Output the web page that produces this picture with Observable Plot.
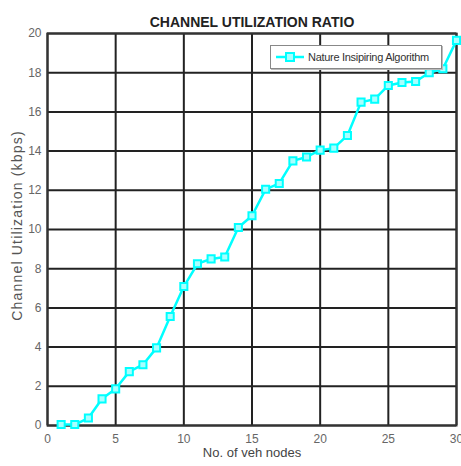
<!DOCTYPE html>
<html>
<head>
<meta charset="utf-8">
<script src="https://cdn.jsdelivr.net/npm/d3@7"></script>
<script src="https://cdn.jsdelivr.net/npm/@observablehq/plot@0.6"></script>
<style>
  html, body { margin: 0; padding: 0; background: #fff; }
  #wrap { position: relative; width: 461px; height: 466px; }
  #legend {
    position: absolute; left: 270px; top: 45px; width: 172px; height: 24px;
    background: #fff; border: 1px solid #888; box-shadow: 1px 1px 0 #bbb;
    display: flex; align-items: center; box-sizing: border-box;
    font-family: "Liberation Sans", Arial, sans-serif; font-size: 11px; color: #333;
    letter-spacing: -0.3px;
  }
  #legend svg { margin-left: 5px; margin-right: 4px; }
</style>
</head>
<body>
<div id="wrap"></div>
<script>
const nodes = [1,2,3,4,5,6,7,8,9,10,11,12,13,14,15,16,17,18,19,20,21,22,23,24,25,26,27,28,29,30];
const utilization = [0.05,0.05,0.38,1.36,1.87,2.75,3.1,3.96,5.56,7.09,8.25,8.5,8.6,10.1,10.7,12.05,12.35,13.5,13.7,14.05,14.15,14.8,16.5,16.65,17.35,17.5,17.55,18.0,18.2,19.65];
const xTicks = [0,5,10,15,20,25,30];
const yTicks = [0,2,4,6,8,10,12,14,16,18,20];
const seriesName = "Nature Insipiring Algorithm";
const title = "CHANNEL UTILIZATION RATIO";
const xLabel = "No. of veh nodes";
const yLabel = "Channel Utilization (kbps)";

const data = nodes.map((n, i) => ({n, u: utilization[i]}));
const cyan = "#00ffff";

const chart = Plot.plot({
  width: 461,
  height: 466,
  marginLeft: 47,
  marginRight: 5,
  marginTop: 33,
  marginBottom: 41,
  style: {fontFamily: "'Liberation Sans', Arial, sans-serif", background: "#fff"},
  x: {domain: [0, 30], ticks: xTicks, label: null},
  y: {domain: [0, 20], ticks: yTicks, label: null},
  marks: [
    Plot.gridX(xTicks, {stroke: "#222", strokeOpacity: 1, strokeWidth: 2}),
    Plot.gridY(yTicks, {stroke: "#222", strokeOpacity: 1, strokeWidth: 2}),
    Plot.frame({stroke: "#333", strokeWidth: 2}),
    Plot.axisX(xTicks, {tickSize: 0, tickPadding: 9, fontSize: 12, fill: "#666"}),
    Plot.axisY(yTicks, {tickSize: 0, tickPadding: 6, fontSize: 12, fill: "#666"}),
    Plot.line(data, {x: "n", y: "u", stroke: cyan, strokeWidth: 2.5}),
    Plot.dot(data, {x: "n", y: "u", symbol: "square", r: 4, stroke: cyan, strokeWidth: 2, fill: "#a8ffff"}),
    Plot.text([title], {frameAnchor: "top", dy: -16, fontSize: 14, fontWeight: "bold", fill: "#222", fontFamily: "'Liberation Sans Narrow', 'Liberation Sans', Arial, sans-serif"}),
    Plot.text([xLabel], {frameAnchor: "bottom", dy: 31, fontSize: 13, fill: "#444"}),
    Plot.text([yLabel], {frameAnchor: "left", textAnchor: "middle", rotate: -90, dx: -30, dy: -4, fontSize: 14, fill: "#555"})
  ]
});

d3.select(chart).selectAll("text").filter(function() { return this.textContent === yLabel; })
  .attr("letter-spacing", "1.2px");

const wrap = document.getElementById("wrap");
wrap.appendChild(chart);

const legend = document.createElement("div");
legend.id = "legend";
const ls = d3.create("svg").attr("width", 28).attr("height", 12);
ls.append("line").attr("x1", 0).attr("x2", 28).attr("y1", 6).attr("y2", 6).attr("stroke", cyan).attr("stroke-width", 2.5);
ls.append("rect").attr("x", 10).attr("y", 2).attr("width", 8).attr("height", 8).attr("stroke", cyan).attr("stroke-width", 2).attr("fill", "#a8ffff");
legend.appendChild(ls.node());
const lt = document.createElement("span");
lt.textContent = seriesName;
legend.appendChild(lt);
wrap.appendChild(legend);
</script>
</body>
</html>
